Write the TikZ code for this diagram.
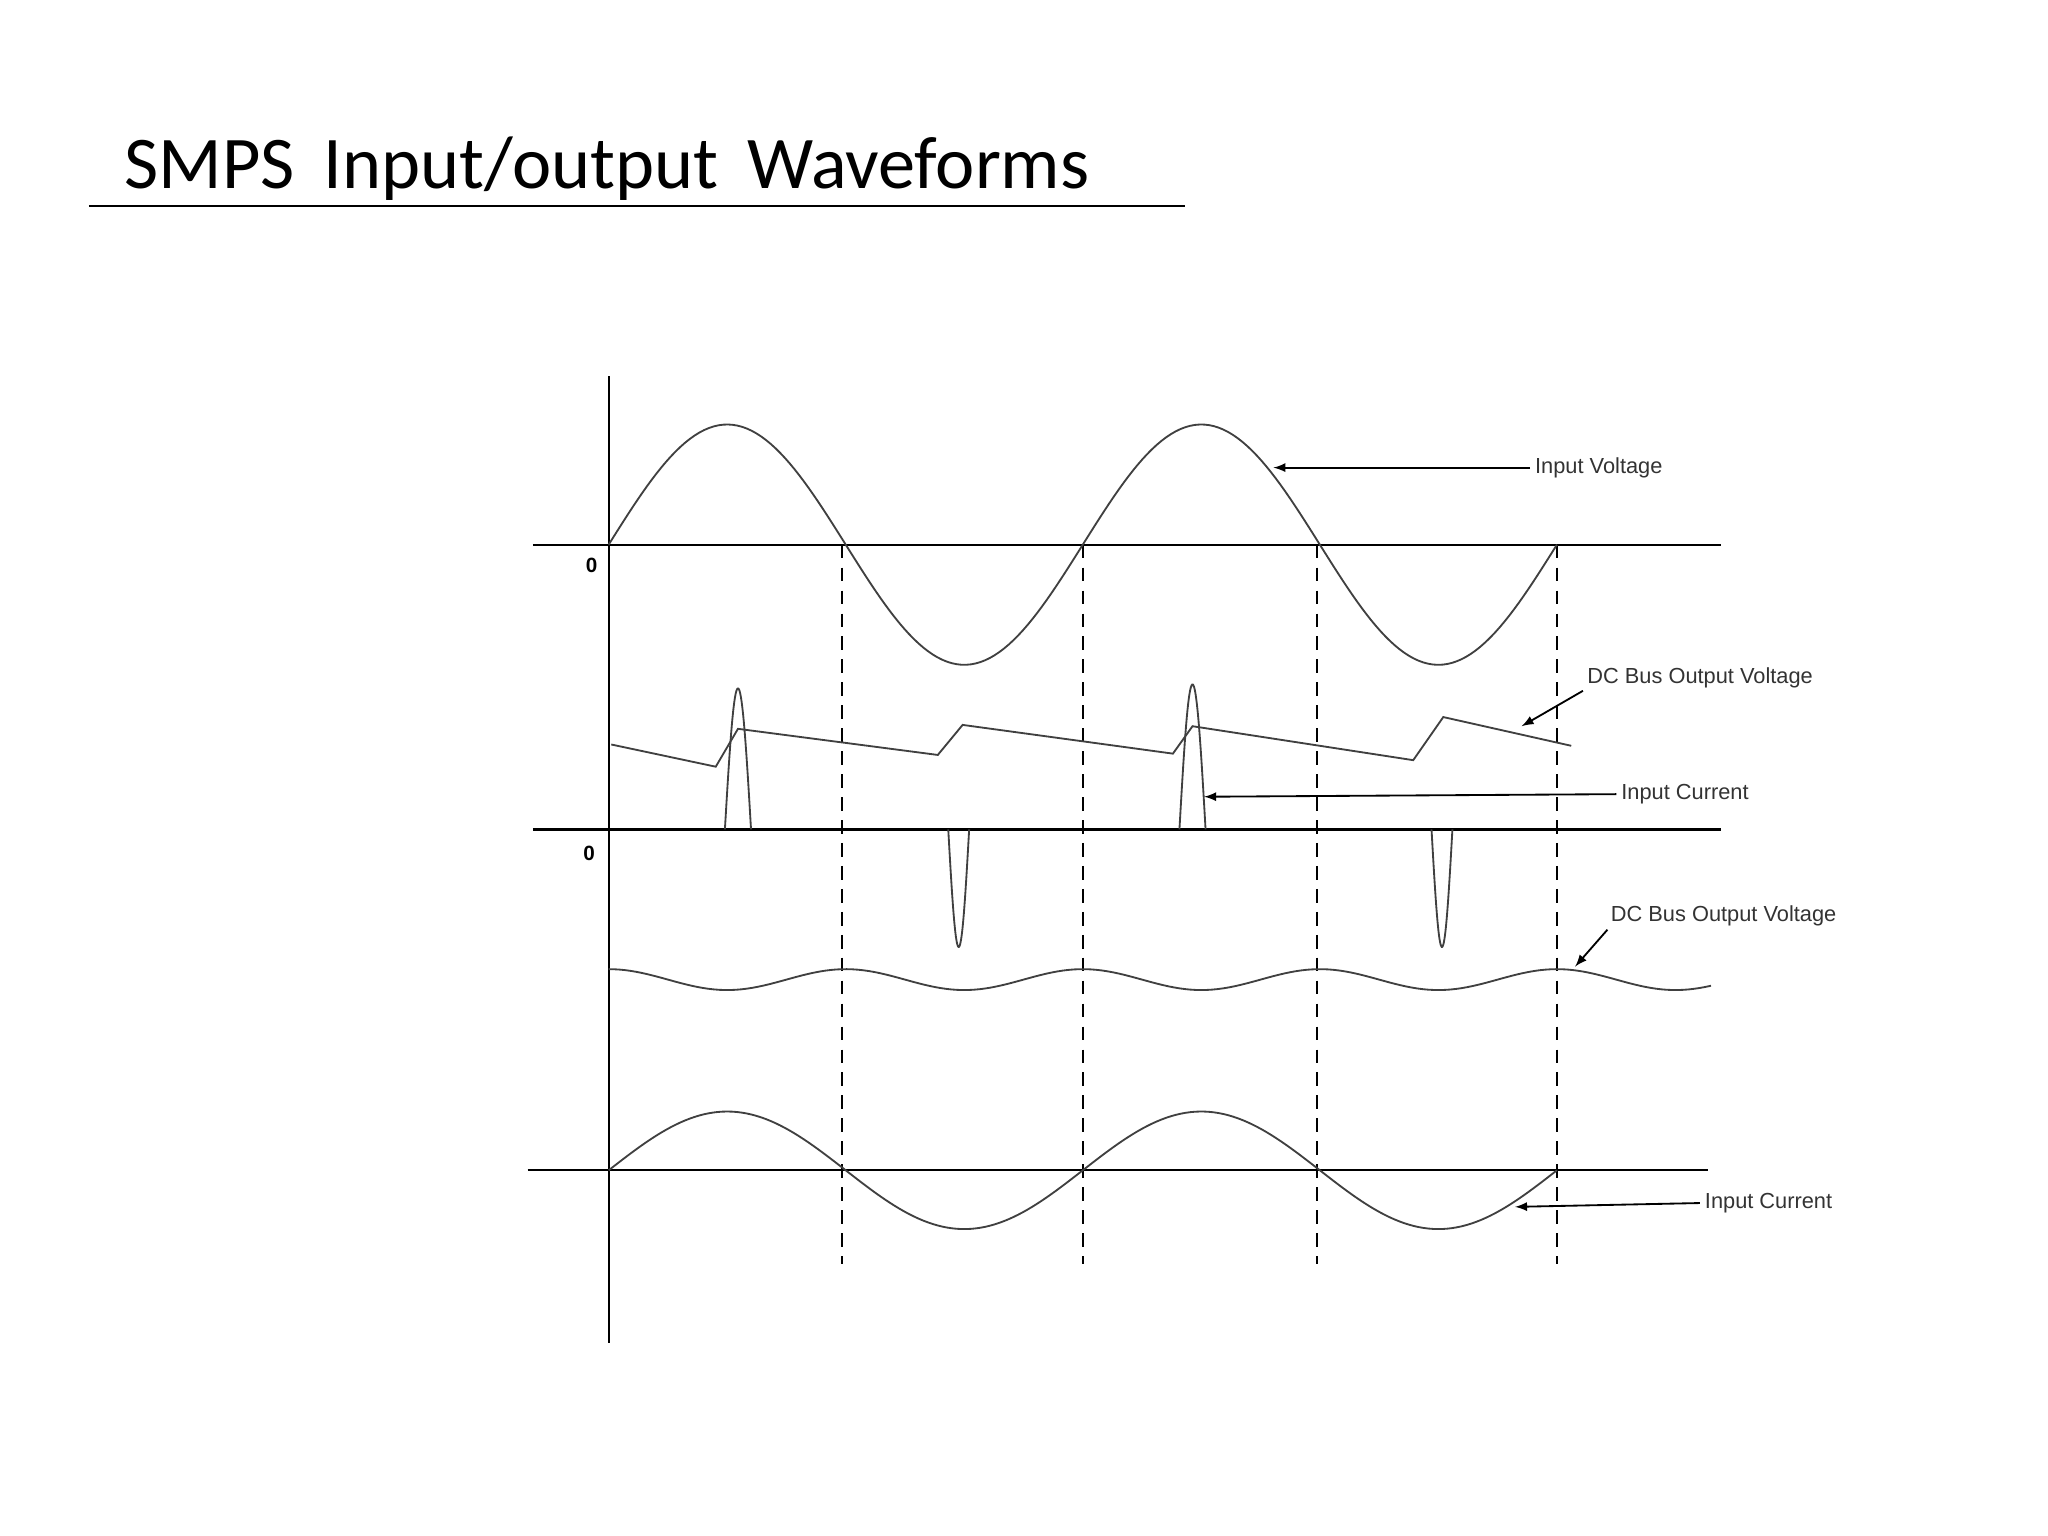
\documentclass[tikz,border=0pt]{standalone}
\usepackage{fontspec}
\setmainfont{Carlito}
\newfontfamily\lab{Liberation Sans}
\begin{document}
\begin{tikzpicture}[x=0.02cm,y=-0.02cm,
  wave/.style={line width=0.8pt,black!75},
  axis/.style={line width=1pt,black},
  dashln/.style={line width=0.9pt,dash pattern=on 6pt off 4pt},
  lbl/.style={font=\lab\fontsize{9.5}{10}\selectfont,anchor=west,inner sep=0pt,black!80},
  lead/.style={line width=0.8pt,-latex,shorten <=2pt}]
\useasboundingbox (0,0) rectangle (1568,1176);
\node[anchor=base west,inner sep=0pt,font=\fontsize{32.4}{36}\selectfont] (title) at (95,144) {SMPS\, Input/output\, Waveforms};
\draw[line width=0.8pt] (68,158) -- (907,158);
% axes
\draw[axis] (466,288) -- (466,1028);
\draw[axis] (408,417) -- (1318,417);
\draw[axis] (408,635) -- (1318,635);
\draw[axis] (404,896) -- (1308,896);
\node[font=\lab\bfseries\fontsize{9}{10}\selectfont] (z1) at (453,433) {0};
\node[font=\lab\bfseries\fontsize{9}{10}\selectfont] (z2) at (451,653) {0};
% dashed
\foreach \x in {645,829,1008,1192} \draw[dashln] (\x,417) -- (\x,968);
% input voltage
\draw[wave] plot[domain=466:1192,samples=200] (\x,{417-92*sin((\x-466)/363*360)});
% DC bus sawtooth
\draw[wave] (468,570)--(548,587)--(565,558)--(718,578)--(737,555)--(898,577)--(913,556)--(1082,582)--(1105,549)--(1203,571);
% current pulses
\foreach \c/\h/\w in {565/-108/10, 913/-111/10, 734/90/8, 1104/90/8}
  \draw[wave] plot[domain=\c-\w:\c+\w,samples=40] (\x,{635+\h*abs(cos((\x-\c)/\w*90))});
% lower dc bus
\draw[wave] plot[domain=466:1310,samples=200] (\x,{750-8*cos((\x-466)/181.5*360)});
% bottom current
\draw[wave] plot[domain=466:1192,samples=200] (\x,{896-45*sin((\x-466)/363*360)});
% labels
\node[lbl] (iv) at (1175,358) {Input Voltage};
\coordinate (ivt) at (975,358);
\draw[lead] (iv.west) -- (ivt);
\node[lbl] (dc1) at (1215,519) {DC Bus Output Voltage};
\coordinate (dc1t) at (1165,556);
\draw[lead] (dc1.south west) -- (dc1t);
\node[lbl] (ic1) at (1241,608) {Input Current};
\coordinate (ic1t) at (922,610);
\draw[lead] (ic1.west) -- (ic1t);
\node[lbl] (dc2) at (1233,701) {DC Bus Output Voltage};
\coordinate (dc2t) at (1206,740);
\draw[lead] (dc2.south west) -- (dc2t);
\node[lbl] (ic2) at (1305,921) {Input Current};
\coordinate (ic2t) at (1160,924);
\draw[lead] (ic2.west) -- (ic2t);
\end{tikzpicture}
\end{document}
